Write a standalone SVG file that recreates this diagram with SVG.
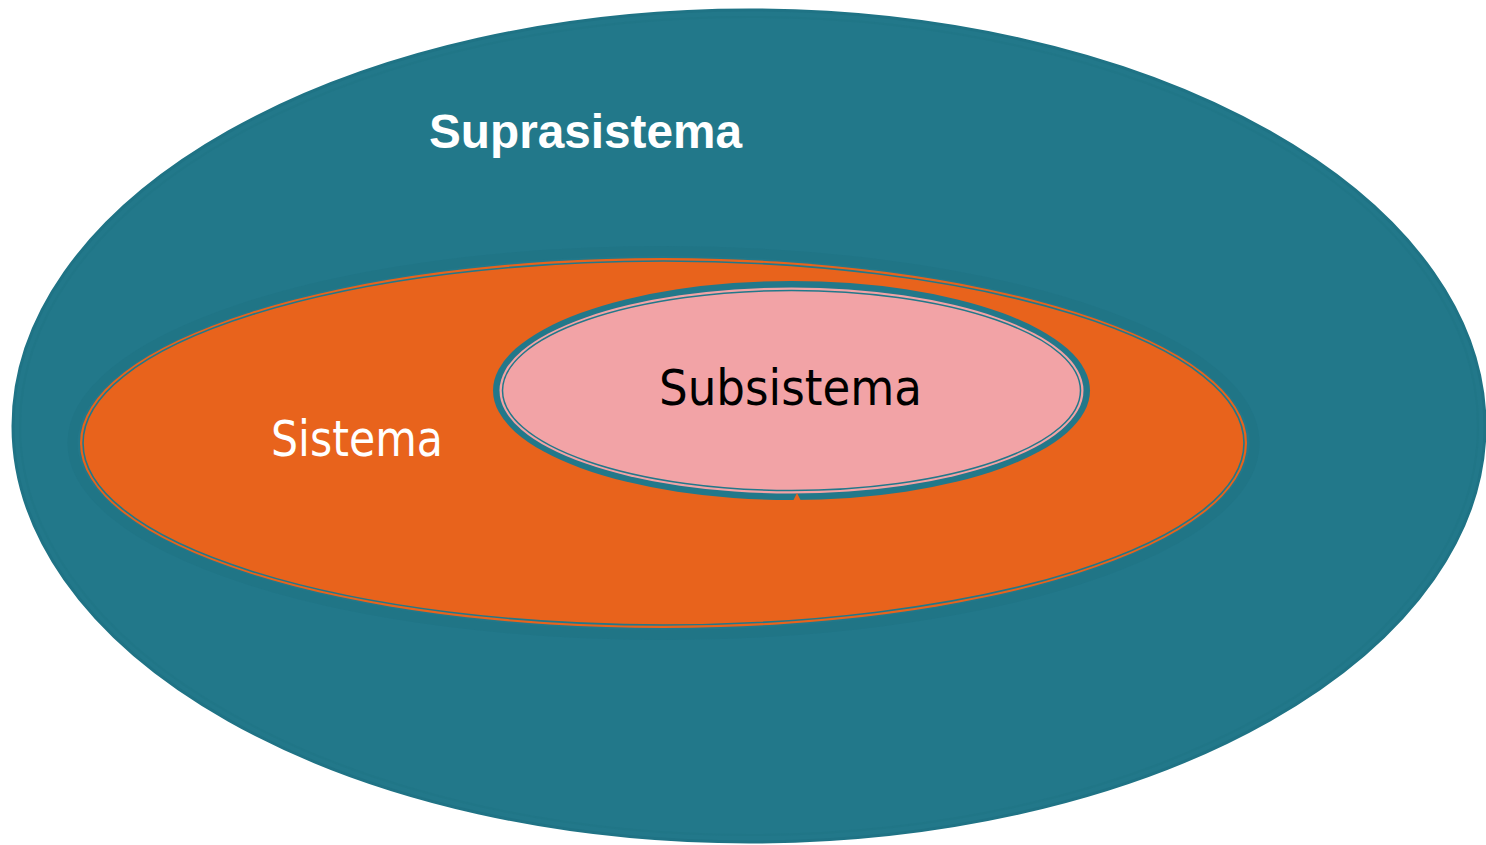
<svg xmlns="http://www.w3.org/2000/svg" width="1486" height="845" viewBox="0 0 1486 845">
  <style>
    .teal { fill: #22788A; }
    .lbl-white { fill: #FFFFFF; }
    .lbl-sans { font-family: "DejaVu Sans", "Open Sans", sans-serif; font-size: 49px; }
  </style>
  <rect x="0" y="0" width="1486" height="845" fill="#FFFFFF"/>
  <g id="suprasistema">
    <ellipse cx="749" cy="426" rx="736" ry="416" class="teal" stroke="#1F7385" stroke-width="3"/>
    <ellipse cx="749" cy="426" rx="729" ry="409" fill="none" stroke="#1F7486" stroke-width="2" opacity="0.6"/>
    <text x="429" y="148" font-family="'Liberation Sans', Arial, sans-serif" font-weight="bold" font-size="48" class="lbl-white" textLength="313" lengthAdjust="spacingAndGlyphs">Suprasistema</text>
  </g>
  <g id="sistema">
    <ellipse cx="663.5" cy="443" rx="591" ry="192" fill="none" stroke="#1F7385" stroke-width="10" opacity="0.7"/>
    <ellipse cx="663.5" cy="443" rx="583.5" ry="185" fill="#E8631C"/>
    <ellipse cx="663.5" cy="443" rx="580.5" ry="182" fill="none" stroke="#22788A" stroke-width="1.6"/>
    <text x="271" y="456" class="lbl-sans lbl-white" textLength="172" lengthAdjust="spacingAndGlyphs">Sistema</text>
  </g>
  <g id="subsistema">
    <ellipse cx="791.5" cy="390.5" rx="298.5" ry="109.5" fill="#22788A"/>
    <ellipse cx="791.5" cy="390.5" rx="292" ry="103" fill="#F2A3A6"/>
    <ellipse cx="791.5" cy="390.5" rx="289" ry="100" fill="none" stroke="#22788A" stroke-width="1.5"/>
    <path d="M793 501 L797 493 L801 501 Z" fill="#E8631C"/>
    <text x="659" y="405" class="lbl-sans" fill="#000000" textLength="263" lengthAdjust="spacingAndGlyphs">Subsistema</text>
  </g>
  <g id="connectors"></g>
</svg>
